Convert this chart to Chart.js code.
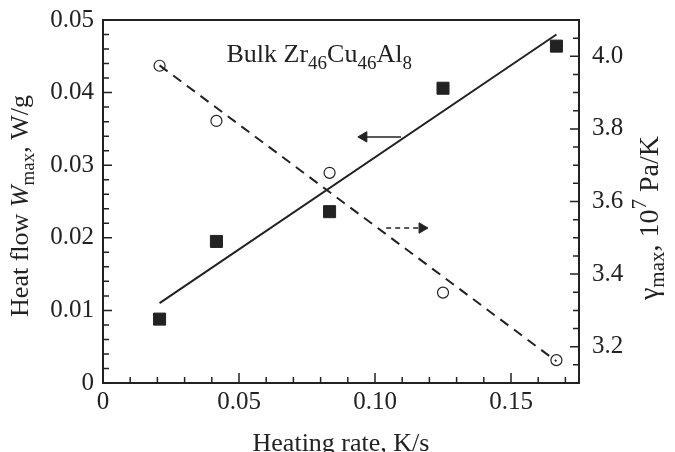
<!DOCTYPE html>
<html lang="en">
<head>
    <meta charset="UTF-8">
    <title>Heat flow and gamma vs heating rate</title>
    <script src="https://cdn.jsdelivr.net/npm/chart.js"></script>
    <style>
        html, body { margin: 0; padding: 0; background: #fff; }
        #wrap { width: 675px; height: 452px; }
    </style>
</head>
<body>
    <div id="wrap"><canvas id="myChart"></canvas></div>

    <script>
        const heatingRate = [0.0208, 0.0417, 0.0833, 0.125, 0.1667];
        const heatFlow = [0.0088, 0.0195, 0.0236, 0.0406, 0.0464];
        const gammaMax = [3.974, 3.822, 3.679, 3.349, 3.163];

        // Fit lines (end points)
        const heatFitX = [0.0208, 0.1667];
        const heatFitY = [0.011, 0.048];
        const gammaFitX = [0.0208, 0.1667];
        const gammaFitY = [3.975, 3.16];

        // Arrows pointing to the axis each curve belongs to
        const leftArrowX = [0.1096, 0.0959];
        const leftArrowY = [0.0339, 0.0339];
        const rightArrowX = [0.1041, 0.1173];
        const rightArrowY = [3.527, 3.527];

        // Tick labels
        const xTicks = [0, 0.05, 0.10, 0.15];
        const yTicks = [0, 0.01, 0.02, 0.03, 0.04, 0.05];
        const y2Ticks = [3.2, 3.4, 3.6, 3.8, 4.0];

        // Annotation position (data coords, left axis)
        const labelX = 0.0454;
        const labelY = 0.0442;

        const ink = '#222';
        const serif = "'Liberation Serif', 'Times New Roman', serif";

        const pts = (xs, ys) => xs.map((x, i) => ({ x: x, y: ys[i] }));

        // draw a run of text pieces (normal / italic / sub / sup) centred on x
        function drawRuns(ctx, runs, x, y, align) {
            let total = 0;
            runs.forEach(r => { ctx.font = r.font; total += ctx.measureText(r.t).width; });
            let cx = align === 'left' ? x : x - total / 2;
            ctx.textAlign = 'left';
            ctx.textBaseline = 'alphabetic';
            runs.forEach(r => {
                ctx.font = r.font;
                ctx.fillText(r.t, cx, y + (r.dy || 0));
                cx += ctx.measureText(r.t).width;
            });
        }

        const extras = {
            id: 'extras',
            afterDraw(chart) {
                const ctx = chart.ctx;
                const a = chart.chartArea;
                const xs = chart.scales.x, ys = chart.scales.y, y2s = chart.scales.y2;
                ctx.save();
                ctx.strokeStyle = ink;
                ctx.fillStyle = ink;

                // frame
                ctx.lineWidth = 2;
                ctx.strokeRect(a.left, a.top, a.right - a.left, a.bottom - a.top);

                // inward ticks
                ctx.lineWidth = 1.5;
                ctx.beginPath();
                for (let i = 0; i <= 17; i++) {
                    const px = xs.getPixelForValue(i * 0.01);
                    const len = i % 5 === 0 ? 10 : 6;
                    ctx.moveTo(px, a.bottom);
                    ctx.lineTo(px, a.bottom - len);
                }
                for (let i = 0; i <= 25; i++) {
                    const py = ys.getPixelForValue(i * 0.002);
                    const len = i % 5 === 0 ? 9 : 6;
                    ctx.moveTo(a.left, py);
                    ctx.lineTo(a.left + len, py);
                }
                for (let i = 0; i <= 20; i++) {
                    const py = y2s.getPixelForValue(3.1 + i * 0.05);
                    const len = (i % 4 === 2) ? 9 : 6;
                    ctx.moveTo(a.right, py);
                    ctx.lineTo(a.right - len, py);
                }
                ctx.stroke();

                const base = '26px ' + serif;
                const ital = 'italic 26px ' + serif;
                const small = '19px ' + serif;
                const baseR = '28px ' + serif;
                const smallR = '21px ' + serif;

                // x title
                drawRuns(ctx, [{ t: 'Heating rate, K/s', font: base }], (a.left + a.right) / 2, 451);

                // left title
                ctx.save();
                ctx.translate(28, 206);
                ctx.rotate(-Math.PI / 2);
                drawRuns(ctx, [
                    { t: 'Heat flow ', font: base },
                    { t: 'W', font: ital },
                    { t: 'max', font: small, dy: 6 },
                    { t: ', W/g', font: base }
                ], 0, 0);
                ctx.restore();

                // right title
                ctx.save();
                ctx.translate(658, 218);
                ctx.rotate(-Math.PI / 2);
                drawRuns(ctx, [
                    { t: 'γ', font: baseR },
                    { t: 'max', font: smallR, dy: 6 },
                    { t: ', 10', font: baseR },
                    { t: '7', font: smallR, dy: -12 },
                    { t: ' Pa/K', font: baseR }
                ], 0, 0);
                ctx.restore();

                // annotation
                drawRuns(ctx, [
                    { t: 'Bulk Zr', font: base },
                    { t: '46', font: small, dy: 7 },
                    { t: 'Cu', font: base },
                    { t: '46', font: small, dy: 7 },
                    { t: 'Al', font: base },
                    { t: '8', font: small, dy: 7 }
                ], xs.getPixelForValue(labelX), ys.getPixelForValue(labelY), 'left');

                ctx.restore();
            }
        };

        const tickFont = { family: serif, size: 25 };

        const ctx = document.getElementById('myChart').getContext('2d');
        new Chart(ctx, {
            type: 'scatter',
            data: {
                datasets: [
                    {
                        label: 'Heat flow fit',
                        type: 'line',
                        data: pts(heatFitX, heatFitY),
                        yAxisID: 'y',
                        borderColor: ink,
                        borderWidth: 2,
                        pointRadius: 0,
                        fill: false
                    },
                    {
                        label: 'Gamma fit',
                        type: 'line',
                        data: pts(gammaFitX, gammaFitY),
                        yAxisID: 'y2',
                        borderColor: ink,
                        borderWidth: 2,
                        borderDash: [10, 7],
                        pointRadius: 0,
                        fill: false
                    },
                    {
                        label: 'Left arrow',
                        type: 'line',
                        data: pts(leftArrowX, leftArrowY),
                        yAxisID: 'y',
                        borderColor: ink,
                        borderWidth: 1.5,
                        pointRadius: [0, 6],
                        pointStyle: 'triangle',
                        pointRotation: -90,
                        pointBackgroundColor: ink,
                        pointBorderColor: ink,
                        pointBorderWidth: 1,
                        fill: false
                    },
                    {
                        label: 'Right arrow',
                        type: 'line',
                        data: pts(rightArrowX, rightArrowY),
                        yAxisID: 'y2',
                        borderColor: ink,
                        borderWidth: 1.5,
                        borderDash: [5, 4],
                        pointRadius: [0, 6],
                        pointStyle: 'triangle',
                        pointRotation: 90,
                        pointBackgroundColor: ink,
                        pointBorderColor: ink,
                        pointBorderWidth: 1,
                        fill: false
                    },
                    {
                        label: 'Heat flow Wmax',
                        data: pts(heatingRate, heatFlow),
                        yAxisID: 'y',
                        pointStyle: 'rect',
                        pointRadius: 8.5,
                        backgroundColor: ink,
                        borderColor: ink,
                        borderWidth: 1
                    },
                    {
                        label: 'gamma max',
                        data: pts(heatingRate, gammaMax),
                        yAxisID: 'y2',
                        pointStyle: 'circle',
                        pointRadius: 5.5,
                        backgroundColor: '#fff',
                        borderColor: ink,
                        borderWidth: 1.2
                    }
                ]
            },
            options: {
                responsive: true,
                maintainAspectRatio: false,
                animation: false,
                events: [],
                layout: { padding: { top: 20, left: 0, right: 0, bottom: 0 } },
                plugins: {
                    legend: { display: false },
                    tooltip: { enabled: false }
                },
                scales: {
                    x: {
                        type: 'linear',
                        min: 0,
                        max: 0.175,
                        grid: { display: false, drawTicks: false },
                        border: { display: false },
                        afterBuildTicks: s => { s.ticks = xTicks.map(v => ({ value: v })); },
                        afterFit: s => { s.height = 69; s.paddingLeft = 0; s.paddingRight = 0; },
                        ticks: {
                            font: tickFont,
                            color: ink,
                            padding: 4,
                            maxRotation: 0,
                            callback: v => v === 0 ? '0' : v.toFixed(2)
                        }
                    },
                    y: {
                        position: 'left',
                        min: 0,
                        max: 0.05,
                        grid: { display: false, drawTicks: false },
                        border: { display: false },
                        afterBuildTicks: s => { s.ticks = yTicks.map(v => ({ value: v })); },
                        afterFit: s => { s.width = 103; s.paddingTop = 0; s.paddingBottom = 0; },
                        ticks: {
                            font: tickFont,
                            color: ink,
                            padding: 9,
                            callback: v => v === 0 ? '0' : v.toFixed(2)
                        }
                    },
                    y2: {
                        position: 'right',
                        min: 3.1,
                        max: 4.1,
                        grid: { display: false, drawTicks: false },
                        border: { display: false },
                        afterBuildTicks: s => { s.ticks = y2Ticks.map(v => ({ value: v })); },
                        afterFit: s => { s.width = 96; s.paddingTop = 0; s.paddingBottom = 0; },
                        ticks: {
                            font: tickFont,
                            color: ink,
                            padding: 13,
                            callback: v => v.toFixed(1)
                        }
                    }
                }
            },
            plugins: [extras]
        });
    </script>
</body>
</html>
